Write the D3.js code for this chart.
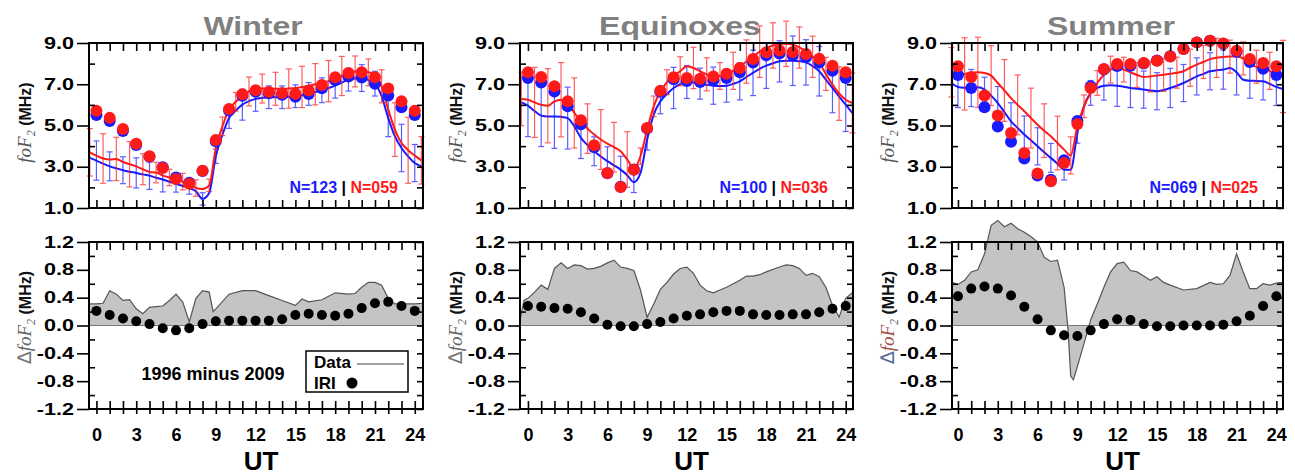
<!DOCTYPE html>
<html>
<head>
<meta charset="utf-8">
<script src="https://cdn.jsdelivr.net/npm/d3@7/dist/d3.min.js"></script>
<style>
body { margin: 0; background: #fff; }
svg { display: block; font-family: 'Liberation Sans', Arial, sans-serif; }
</style>
</head>
<body>
<svg id="chart" width="1295" height="475"></svg>
<script>
// hours used by the curves (half-hour steps), by the IRI dots and by the error bars
const halfHours = d3.range(-0.5, 24.51, 0.5);
const hours = d3.range(0, 25);
const barHours1996 = d3.range(-0.5, 24.51, 1);

// ---- Winter ----
const winterLine1996 = [3.70,3.54,3.40,3.35,3.38,3.23,3.12,3.02,2.88,2.75,2.72,2.57,2.48,2.38,2.28,2.17,1.97,1.92,2.10,3.90,4.96,5.77,6.15,6.42,6.65,6.77,6.79,6.79,6.78,6.77,6.79,6.82,6.87,6.93,7.00,7.06,7.15,7.25,7.40,7.55,7.62,7.63,7.58,7.47,6.90,5.77,4.80,4.15,3.80,3.54,3.31];
const winterLine2009 = [3.43,3.30,3.15,3.02,2.92,2.83,2.76,2.70,2.63,2.57,2.47,2.38,2.27,2.17,2.07,1.97,1.81,1.44,1.73,3.51,4.55,5.36,5.72,6.01,6.18,6.29,6.34,6.37,6.37,6.37,6.39,6.42,6.47,6.53,6.62,6.71,6.82,6.93,7.08,7.22,7.28,7.30,7.20,7.03,6.42,5.36,4.48,3.91,3.50,3.18,3.02];
const winterSd1996 = [1.15,1.20,1.05,1.10,0.75,0.50,0.40,0.40,0.40,0.30,0.45,0.45,0.70,0.70,0.80,0.95,1.00,1.00,1.00,0.95,0.75,0.65,0.80,1.30,1.60,1.15];
const winterSd2009 = [0.95,0.70,0.65,0.73,0.67,0.60,0.40,0.30,0.30,0.35,0.50,0.75,0.60,0.55,0.55,0.55,0.55,0.60,0.60,0.55,0.65,0.60,0.90,1.15,0.90];
const winterIri1996 = [5.72,5.37,4.83,4.12,3.51,2.94,2.41,2.18,2.81,4.30,5.80,6.51,6.71,6.63,6.58,6.54,6.70,6.96,7.34,7.55,7.58,7.34,6.80,6.17,5.72];
const winterIri2009 = [5.51,5.22,4.73,4.06,3.49,2.98,2.48,2.22,2.79,4.24,5.73,6.44,6.64,6.56,6.49,6.39,6.53,6.81,7.20,7.38,7.33,7.02,6.46,5.89,5.51];
const winterDeltaHours = [-0.56,0,0.5,1,1.5,2,2.5,3,3.5,4,4.5,5,5.5,6,6.5,7,7.5,8,8.5,8.8,9,10,11,12,13,14,15,15.5,16,17,18,19,19.5,20,20.5,21,21.5,22,22.5,23,24,24.62];
const winterDelta = [0.31,0.31,0.32,0.50,0.45,0.36,0.37,0.24,0.17,0.26,0.27,0.28,0.36,0.45,0.34,0.05,0.39,0.50,0.48,0.20,0.24,0.45,0.50,0.50,0.43,0.36,0.29,0.38,0.34,0.37,0.47,0.45,0.46,0.55,0.62,0.62,0.58,0.39,0.31,0.31,0.31,0.32];
const winterDeltaIri = [0.21,0.15,0.10,0.06,0.02,-0.04,-0.07,-0.04,0.02,0.06,0.07,0.07,0.07,0.07,0.09,0.15,0.17,0.15,0.14,0.17,0.25,0.32,0.34,0.28,0.21];

// ---- Equinoxes ----
const equinoxLine1996 = [6.29,6.25,6.12,6.01,5.96,6.17,6.25,6.12,5.61,5.20,4.85,4.56,4.32,4.12,3.95,3.75,3.35,2.95,3.51,4.80,5.93,6.65,7.10,7.42,7.63,7.87,7.79,7.63,7.48,7.38,7.40,7.46,7.65,7.87,8.10,8.35,8.58,8.76,8.88,8.95,8.96,8.92,8.78,8.60,8.33,8.03,7.50,6.98,6.55,6.25,6.09];
const equinoxLine2009 = [6.12,5.96,5.70,5.48,5.44,5.44,5.42,5.36,4.96,4.40,4.05,3.75,3.50,3.27,3.07,2.86,2.59,2.25,2.70,4.31,5.53,6.17,6.52,6.82,7.00,7.11,7.08,7.03,6.97,6.93,6.92,6.93,7.02,7.14,7.35,7.55,7.75,7.90,8.02,8.11,8.14,8.14,8.12,8.06,7.88,7.63,7.22,6.82,6.40,6.01,5.61];
const equinoxSd1996 = [1.30,1.70,1.80,1.80,1.70,1.20,1.45,1.20,1.35,0.40,0.50,0.60,0.70,1.00,0.80,0.65,0.90,1.05,1.25,1.10,1.10,1.00,1.00,0.80,1.30,1.45];
const equinoxSd2009 = [1.50,1.50,1.55,1.50,1.00,0.70,0.70,0.65,0.50,0.50,0.60,1.00,0.80,0.75,0.90,0.80,0.90,1.10,1.10,1.00,1.20,1.10,1.20,1.20,1.30];
const equinoxIri1996 = [7.58,7.35,6.90,6.17,5.25,4.04,2.70,2.02,2.86,4.88,6.69,7.34,7.30,7.27,7.38,7.51,7.79,8.22,8.55,8.64,8.56,8.47,8.24,7.90,7.58];
const equinoxIri2009 = [7.30,7.08,6.65,5.93,5.06,3.94,2.69,2.03,2.87,4.86,6.64,7.24,7.16,7.11,7.19,7.30,7.58,8.06,8.40,8.49,8.40,8.31,8.05,7.66,7.30];
const equinoxDeltaHours = [-0.6,-0.3,0,0.5,1,1.5,2,2.5,3,3.5,4,4.5,5,5.5,6,6.5,7,7.5,8,8.5,9,9.5,10,10.5,11,11.5,12,12.5,13,13.5,14,14.5,15,16,16.5,17,17.5,18,19,19.5,20,20.5,21,21.5,22,22.5,23,23.5,24,24.55];
const equinoxDelta = [0.08,0.36,0.39,0.48,0.58,0.52,0.82,0.90,0.82,0.87,0.86,0.81,0.82,0.85,0.90,0.94,0.84,0.82,0.79,0.51,0.12,0.31,0.52,0.62,0.74,0.82,0.84,0.75,0.58,0.50,0.47,0.51,0.55,0.65,0.71,0.71,0.73,0.77,0.84,0.87,0.86,0.82,0.72,0.75,0.70,0.55,0.29,0.12,0.39,0.48];
const equinoxDeltaIri = [0.28,0.27,0.25,0.24,0.19,0.10,0.01,-0.01,-0.01,0.02,0.05,0.10,0.14,0.16,0.19,0.21,0.21,0.16,0.15,0.15,0.16,0.16,0.19,0.24,0.28];

// ---- Summer ----
const summerLine1996 = [7.58,7.46,7.50,7.55,7.58,7.55,7.42,7.06,6.70,6.33,6.00,5.69,5.36,5.04,4.75,4.48,4.15,3.83,3.55,4.96,5.93,6.58,7.06,7.46,7.71,7.79,7.71,7.58,7.45,7.35,7.38,7.42,7.46,7.51,7.56,7.63,7.80,7.95,8.08,8.22,8.28,8.32,8.34,8.35,8.25,7.95,7.85,7.79,7.65,7.46,7.38];
const summerLine2009 = [7.06,6.87,6.83,6.82,6.85,6.74,6.45,6.09,5.65,5.20,4.88,4.56,4.28,3.99,3.70,3.43,3.15,2.86,2.85,4.64,5.93,6.58,6.82,6.93,6.95,6.93,6.88,6.82,6.78,6.74,6.70,6.66,6.72,6.82,6.93,7.06,7.22,7.38,7.50,7.63,7.68,7.71,7.79,7.58,7.22,7.17,7.16,7.14,7.02,6.87,6.77];
const summerSd1996 = [1.20,1.75,1.70,1.45,1.50,1.45,1.45,1.30,1.30,0.90,0.55,0.60,0.65,0.60,0.60,0.75,0.80,0.75,0.90,0.80,0.95,0.80,0.80,0.80,0.90,1.75];
const summerSd2009 = [1.00,0.90,0.60,0.80,0.90,0.90,0.90,0.70,0.50,0.50,0.60,0.70,1.00,0.95,0.90,0.90,0.95,0.90,0.90,0.90,0.95,1.10,0.85,0.90,0.90];
const summerIri1996 = [7.87,7.35,6.45,5.48,4.64,3.67,2.67,2.30,3.18,5.07,6.82,7.74,7.98,7.98,8.03,8.14,8.35,8.71,9.03,9.11,8.97,8.63,8.22,8.03,7.87];
const summerIri2009 = [7.45,6.82,5.89,4.95,4.21,3.40,2.58,2.37,3.32,5.22,6.89,7.72,7.89,7.90,8.01,8.15,8.36,8.71,9.03,9.11,8.96,8.57,8.08,7.75,7.45];
const summerDeltaHours = [-0.45,0,0.5,1,1.5,2,2.5,3,3.5,4,4.5,5,5.5,6,6.5,7,7.5,8,8.3,8.5,8.7,9,9.5,10,10.5,11,11.5,12,12.5,13,13.5,14,14.5,15,15.5,16,17,18,19,19.5,20,20.5,21,21.5,22,22.5,23,23.5,24,24.5];
const summerDelta = [0.62,0.59,0.65,0.77,0.80,1.03,1.44,1.51,1.42,1.47,1.39,1.34,1.28,1.20,0.98,0.92,0.94,0.55,-0.07,-0.73,-0.78,-0.59,-0.26,0.08,0.31,0.55,0.77,0.89,0.91,0.79,0.77,0.71,0.65,0.70,0.62,0.58,0.51,0.53,0.62,0.59,0.60,0.72,1.03,0.77,0.53,0.53,0.60,0.58,0.61,0.62];
const summerDeltaIri = [0.42,0.53,0.56,0.53,0.43,0.27,0.09,-0.07,-0.14,-0.15,-0.07,0.02,0.09,0.08,0.02,-0.01,-0.01,0.00,0.00,0.00,0.01,0.06,0.14,0.28,0.42];

const foF2Ticks = [1, 3, 5, 7, 9];
const foF2Minor = [2, 4, 6, 8];
const deltaTicks = [-1.2, -0.8, -0.4, 0, 0.4, 0.8, 1.2];
const deltaMinor = [-1.0, -0.6, -0.2, 0.2, 0.6, 1.0];
const hourLabels = [0, 3, 6, 9, 12, 15, 18, 21, 24];

const colors = { y1996: '#ff1a1a', y2009: '#1a1aff', fill: '#c4c4c4', title: '#808080' };

const panels = [
    { title: 'Winter', titleX: 253, left: 89, right: 423, xMin: -0.56, xMax: 24.62,
      line1996: winterLine1996, line2009: winterLine2009, sd1996: winterSd1996, sd2009: winterSd2009,
      iri1996: winterIri1996, iri2009: winterIri2009,
      deltaHours: winterDeltaHours, delta: winterDelta, deltaIri: winterDeltaIri,
      n2009: 'N=123', n1996: 'N=059', legend: true },
    { title: 'Equinoxes', titleX: 680, left: 520, right: 853, xMin: -0.6, xMax: 24.55,
      line1996: equinoxLine1996, line2009: equinoxLine2009, sd1996: equinoxSd1996, sd2009: equinoxSd2009,
      iri1996: equinoxIri1996, iri2009: equinoxIri2009,
      deltaHours: equinoxDeltaHours, delta: equinoxDelta, deltaIri: equinoxDeltaIri,
      n2009: 'N=100', n1996: 'N=036', legend: false },
    { title: 'Summer', titleX: 1111, left: 952, right: 1283, xMin: -0.45, xMax: 24.5,
      line1996: summerLine1996, line2009: summerLine2009, sd1996: summerSd1996, sd2009: summerSd2009,
      iri1996: summerIri1996, iri2009: summerIri2009,
      deltaHours: summerDeltaHours, delta: summerDelta, deltaIri: summerDeltaIri,
      n2009: 'N=069', n1996: 'N=025', legend: false, redLabel: true }
];

const topBox = { top: 43, bottom: 208 };
const botBox = { top: 242, bottom: 409 };
const tickStretch = 1.35;   // the tick numbers of the original are drawn wide

function styleAxis(g) {
    g.select('.domain').remove();
    g.selectAll('line').attr('stroke', '#000').attr('stroke-width', 1.6);
    g.selectAll('text')
        .attr('fill', '#000')
        .style('font-family', "'Liberation Sans', Arial, sans-serif")
        .style('font-weight', 'bold');
}

function drawFrameAxes(svg, p, x, y, box, major, minor, fmt, isBottom) {
    // left, labelled ticks go outward
    svg.append('g')
        .attr('transform', `translate(${p.left}, 0)`)
        .call(d3.axisLeft(y).tickValues(major).tickSize(12).tickFormat(fmt))
        .call(styleAxis)
        .selectAll('text')
        .style('font-size', '16px')
        .attr('x', -15 / tickStretch)
        .attr('transform', `scale(${tickStretch}, 1)`);

    svg.append('g')
        .attr('transform', `translate(${p.left}, 0)`)
        .call(d3.axisLeft(y).tickValues(minor).tickSize(-6).tickFormat(''))
        .call(styleAxis);

    svg.append('g')
        .attr('transform', `translate(${p.right}, 0)`)
        .call(d3.axisRight(y).tickValues(major.concat(minor)).tickSize(-6).tickFormat(''))
        .call(styleAxis);

    svg.append('g')
        .attr('transform', `translate(0, ${box.top})`)
        .call(d3.axisTop(x).tickValues(hours).tickSize(-8).tickFormat(''))
        .call(styleAxis);

    const bottomAxis = svg.append('g')
        .attr('transform', `translate(0, ${box.bottom})`)
        .call(d3.axisBottom(x).tickValues(hours).tickSize(-8)
            .tickFormat(d => (isBottom && hourLabels.includes(d)) ? d : ''))
        .call(styleAxis);

    if (isBottom) {
        bottomAxis.selectAll('line').attr('y1', 5).attr('y2', -8);
        bottomAxis.selectAll('text')
            .attr('y', 19)
            .attr('dy', '0.71em')
            .style('font-size', '18px');
    }

    svg.append('rect')
        .attr('x', p.left)
        .attr('y', box.top)
        .attr('width', p.right - p.left)
        .attr('height', box.bottom - box.top)
        .attr('fill', 'none')
        .attr('stroke', '#000')
        .attr('stroke-width', 2);
}

function drawErrorBars(svg, x, y, barHours, line, sd, color) {
    const g = svg.append('g').attr('stroke', color).attr('stroke-width', 1.2).attr('opacity', 0.7);
    barHours.forEach((h, i) => {
        const center = line[halfHours.indexOf(h)];
        const cx = x(h);
        const y0 = y(center - sd[i]);
        const y1 = y(center + sd[i]);
        g.append('line').attr('x1', cx).attr('x2', cx).attr('y1', y0).attr('y2', y1);
        g.append('line').attr('x1', cx - 3).attr('x2', cx + 3).attr('y1', y0).attr('y2', y0);
        g.append('line').attr('x1', cx - 3).attr('x2', cx + 3).attr('y1', y1).attr('y2', y1);
    });
}

function drawTopPanel(svg, p) {
    const x = d3.scaleLinear().domain([p.xMin, p.xMax]).range([p.left, p.right]);
    const y = d3.scaleLinear().domain([1, 9]).range([topBox.bottom, topBox.top]);

    const line = d3.line()
        .x((d, i) => x(halfHours[i]))
        .y(d => y(d))
        .curve(d3.curveMonotoneX);

    drawErrorBars(svg, x, y, hours, p.line2009, p.sd2009, colors.y2009);
    svg.append('path').datum(p.line2009)
        .attr('fill', 'none').attr('stroke', colors.y2009).attr('stroke-width', 2)
        .attr('d', line);

    drawErrorBars(svg, x, y, barHours1996, p.line1996, p.sd1996, colors.y1996);
    svg.append('path').datum(p.line1996)
        .attr('fill', 'none').attr('stroke', colors.y1996).attr('stroke-width', 2)
        .attr('d', line);

    svg.append('g').selectAll('circle')
        .data(p.iri2009)
        .enter()
        .append('circle')
        .attr('cx', (d, i) => x(hours[i]))
        .attr('cy', d => y(d))
        .attr('r', 6)
        .attr('fill', colors.y2009);

    svg.append('g').selectAll('circle')
        .data(p.iri1996)
        .enter()
        .append('circle')
        .attr('cx', (d, i) => x(hours[i]))
        .attr('cy', d => y(d))
        .attr('r', 6)
        .attr('fill', colors.y1996);

    drawFrameAxes(svg, p, x, y, topBox, foF2Ticks, foF2Minor, d3.format('.1f'), false);

    // title over the panel, drawn wide like the original
    svg.append('text')
        .attr('transform', `translate(${p.titleX}, 35) scale(1.28, 1)`)
        .attr('text-anchor', 'middle')
        .attr('font-size', '25px')
        .attr('font-weight', 'bold')
        .attr('fill', colors.title)
        .text(p.title);

    const nText = svg.append('text')
        .attr('x', p.right - 25)
        .attr('y', 193)
        .attr('text-anchor', 'end')
        .attr('font-size', '16px')
        .attr('font-weight', 'bold');
    nText.append('tspan').attr('fill', colors.y2009).text(p.n2009);
    nText.append('tspan').attr('fill', '#000').text(' | ');
    nText.append('tspan').attr('fill', colors.y1996).text(p.n1996);

    const yLabel = svg.append('text')
        .attr('transform', `translate(${p.left - 58}, ${(topBox.top + topBox.bottom) / 2 - 3}) rotate(-90)`)
        .attr('text-anchor', 'middle');
    yLabel.append('tspan')
        .attr('font-family', "'Liberation Serif', 'DejaVu Serif', serif")
        .attr('font-style', 'italic')
        .attr('font-size', '19px')
        .attr('fill', '#555')
        .text('foF');
    yLabel.append('tspan')
        .attr('font-family', "'Liberation Serif', 'DejaVu Serif', serif")
        .attr('font-style', 'italic')
        .attr('font-size', '12px')
        .attr('fill', '#555')
        .attr('dy', 4)
        .text('2');
    yLabel.append('tspan')
        .attr('font-size', '16px')
        .attr('font-weight', 'bold')
        .attr('fill', '#111')
        .attr('dy', -4)
        .text(' (MHz)');
}

function drawBottomPanel(svg, p) {
    const x = d3.scaleLinear().domain([p.xMin, p.xMax]).range([p.left, p.right]);
    const y = d3.scaleLinear().domain([-1.2, 1.2]).range([botBox.bottom, botBox.top]);

    svg.append('path')
        .datum(p.delta)
        .attr('fill', colors.fill)
        .attr('d', d3.area()
            .x((d, i) => x(p.deltaHours[i]))
            .y0(y(0))
            .y1(d => y(d)));

    svg.append('path')
        .datum(p.delta)
        .attr('fill', 'none')
        .attr('stroke', '#555')
        .attr('stroke-width', 1.2)
        .attr('d', d3.line()
            .x((d, i) => x(p.deltaHours[i]))
            .y(d => y(d)));

    svg.append('line')
        .attr('x1', p.left).attr('x2', p.right)
        .attr('y1', y(0)).attr('y2', y(0))
        .attr('stroke', '#777')
        .attr('stroke-width', 1.2);

    svg.append('g').selectAll('circle')
        .data(p.deltaIri)
        .enter()
        .append('circle')
        .attr('cx', (d, i) => x(hours[i]))
        .attr('cy', d => y(d))
        .attr('r', 5)
        .attr('fill', '#000');

    drawFrameAxes(svg, p, x, y, botBox, deltaTicks, deltaMinor, d => d.toFixed(1), true);

    svg.append('text')
        .attr('x', (p.left + p.right) / 2 + 5)
        .attr('y', 469.5)
        .attr('text-anchor', 'middle')
        .attr('font-size', '26px')
        .attr('font-weight', 'bold')
        .attr('fill', '#000')
        .text('UT');

    const labelColor = p.redLabel ? '#a0524a' : '#666';
    const yLabel = svg.append('text')
        .attr('transform', `translate(${p.left - 58}, ${(botBox.top + botBox.bottom) / 2 - 8}) rotate(-90)`)
        .attr('text-anchor', 'middle');
    yLabel.append('tspan')
        .attr('font-family', "'DejaVu Sans', sans-serif")
        .attr('font-size', '19px')
        .attr('fill', p.redLabel ? '#5a6a9a' : '#777')
        .text('\u2206');
    yLabel.append('tspan')
        .attr('font-family', "'Liberation Serif', 'DejaVu Serif', serif")
        .attr('font-style', 'italic')
        .attr('font-size', '19px')
        .attr('fill', labelColor)
        .text('foF');
    yLabel.append('tspan')
        .attr('font-family', "'Liberation Serif', 'DejaVu Serif', serif")
        .attr('font-style', 'italic')
        .attr('font-size', '12px')
        .attr('fill', '#666')
        .attr('dy', 4)
        .text('2');
    yLabel.append('tspan')
        .attr('font-size', '16px')
        .attr('font-weight', 'bold')
        .attr('fill', '#111')
        .attr('dy', -4)
        .text(' (MHz)');

    if (p.legend) {
        svg.append('text')
            .attr('x', 213)
            .attr('y', 380)
            .attr('text-anchor', 'middle')
            .attr('font-size', '18px')
            .attr('font-weight', 'bold')
            .text('1996 minus 2009');

        const legend = svg.append('g');
        legend.append('rect')
            .attr('x', 306).attr('y', 351).attr('width', 102).attr('height', 41)
            .attr('fill', '#fff').attr('stroke', '#000').attr('stroke-width', 1.5);
        legend.append('text')
            .attr('x', 314).attr('y', 368)
            .attr('font-size', '17px').attr('font-weight', 'bold')
            .text('Data');
        legend.append('line')
            .attr('x1', 357).attr('x2', 404).attr('y1', 364).attr('y2', 364)
            .attr('stroke', '#444').attr('stroke-width', 1.2);
        legend.append('text')
            .attr('x', 314).attr('y', 389)
            .attr('font-size', '17px').attr('font-weight', 'bold')
            .text('IRI');
        legend.append('circle')
            .attr('cx', 352).attr('cy', 383).attr('r', 5.5)
            .attr('fill', '#000');
    }
}

function createChart() {
    const svg = d3.select('#chart');
    svg.selectAll('*').remove();
    panels.forEach(p => {
        drawTopPanel(svg, p);
        drawBottomPanel(svg, p);
    });
}

createChart();
</script>
</body>
</html>
